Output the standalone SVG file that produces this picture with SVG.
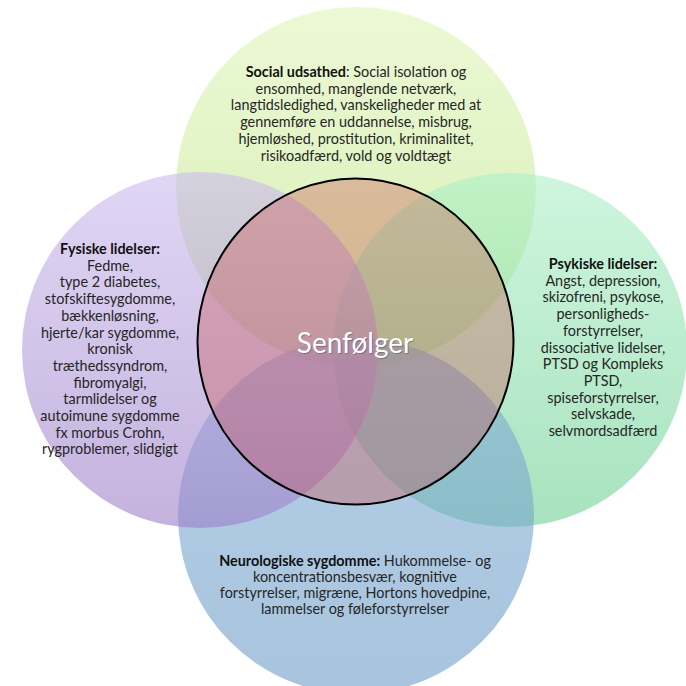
<svg xmlns="http://www.w3.org/2000/svg" width="686" height="686" viewBox="0 0 686 686">
<defs>
<linearGradient id="gTop" x1="0" y1="0" x2="0" y2="1"><stop offset="0" stop-color="rgb(223,245,185)"/><stop offset="1" stop-color="rgb(187,227,127)"/></linearGradient>
<linearGradient id="gLeft" x1="0" y1="0" x2="0" y2="1"><stop offset="0" stop-color="rgb(203,187,238)"/><stop offset="1" stop-color="rgb(157,127,200)"/></linearGradient>
<linearGradient id="gRight" x1="0" y1="0" x2="0" y2="1"><stop offset="0" stop-color="rgb(173,240,200)"/><stop offset="1" stop-color="rgb(110,207,147)"/></linearGradient>
<linearGradient id="gBottom" x1="0" y1="0" x2="0" y2="1"><stop offset="0" stop-color="rgb(130,173,213)"/><stop offset="1" stop-color="rgb(110,157,200)"/></linearGradient>
<style>
.c{fill-opacity:0.6;stroke:none}
.t{font-family:Lato,"Liberation Sans",sans-serif;font-size:14.4px;fill:#262626;text-anchor:middle}
.b{font-weight:bold;fill:#111}
.s{font-family:Lato,"Liberation Sans",sans-serif;font-size:28px;fill:#ffffff;text-anchor:middle}
</style>
</defs>
<rect width="686" height="686" fill="#ffffff"/>
<g id="top-circle"><circle class="c" cx="356" cy="187" r="180" fill="url(#gTop)"/></g>
<g id="right-circle"><circle class="c" cx="510" cy="350" r="177" fill="url(#gRight)"/></g>
<g id="bottom-circle"><circle class="c" cx="356" cy="516" r="178" fill="url(#gBottom)"/></g>
<g id="left-circle"><circle class="c" cx="200" cy="350" r="178" fill="url(#gLeft)"/></g>
<g id="center">
<ellipse cx="355.5" cy="341.5" rx="158" ry="163" fill="rgb(200,70,70)" fill-opacity="0.33" stroke="#000" stroke-width="2"/>
<text class="s" x="356" y="354" style="fill:#000;fill-opacity:0.25">Senfølger</text>
<text class="s" x="355" y="353">Senfølger</text>
</g>
<g id="social">
<text class="t" x="356" y="77"><tspan class="b">Social udsathed</tspan>: Social isolation og</text>
<text class="t" x="356" y="93.7">ensomhed, manglende netværk,</text>
<text class="t" x="356" y="110.4">langtidsledighed, vanskeligheder med at</text>
<text class="t" x="356" y="127.1">gennemføre en uddannelse, misbrug,</text>
<text class="t" x="356" y="143.8">hjemløshed, prostitution, kriminalitet,</text>
<text class="t" x="356" y="160.5">risikoadfærd, vold og voldtægt</text>
</g>
<g id="fysiske">
<text class="t b" x="110" y="254">Fysiske lidelser:</text>
<text class="t" x="110" y="270.7">Fedme,</text>
<text class="t" x="110" y="287.4">type 2 diabetes,</text>
<text class="t" x="110" y="304.1">stofskiftesygdomme,</text>
<text class="t" x="110" y="320.8">bækkenløsning,</text>
<text class="t" x="110" y="337.5">hjerte/kar sygdomme,</text>
<text class="t" x="110" y="354.2">kronisk</text>
<text class="t" x="110" y="370.9">træthedssyndrom,</text>
<text class="t" x="110" y="387.6">fibromyalgi,</text>
<text class="t" x="110" y="404.3">tarmlidelser og</text>
<text class="t" x="110" y="421">autoimune sygdomme</text>
<text class="t" x="110" y="437.7">fx morbus Crohn,</text>
<text class="t" x="110" y="454.4">rygproblemer, slidgigt</text>
</g>
<g id="psykiske">
<text class="t b" x="603" y="269">Psykiske lidelser:</text>
<text class="t" x="603" y="285.7">Angst, depression,</text>
<text class="t" x="603" y="302.4">skizofreni, psykose,</text>
<text class="t" x="603" y="319.1">personligheds-</text>
<text class="t" x="603" y="335.8">forstyrrelser,</text>
<text class="t" x="603" y="352.5">dissociative lidelser,</text>
<text class="t" x="603" y="369.2">PTSD og Kompleks</text>
<text class="t" x="603" y="385.9">PTSD,</text>
<text class="t" x="603" y="402.6">spiseforstyrrelser,</text>
<text class="t" x="603" y="419.3">selvskade,</text>
<text class="t" x="603" y="436">selvmordsadfærd</text>
</g>
<g id="neurologiske">
<text class="t" x="355" y="566"><tspan class="b">Neurologiske sygdomme:</tspan> Hukommelse- og</text>
<text class="t" x="355" y="582">koncentrationsbesvær, kognitive</text>
<text class="t" x="355" y="598">forstyrrelser, migræne, Hortons hovedpine,</text>
<text class="t" x="355" y="614">lammelser og føleforstyrrelser</text>
</g>
</svg>
